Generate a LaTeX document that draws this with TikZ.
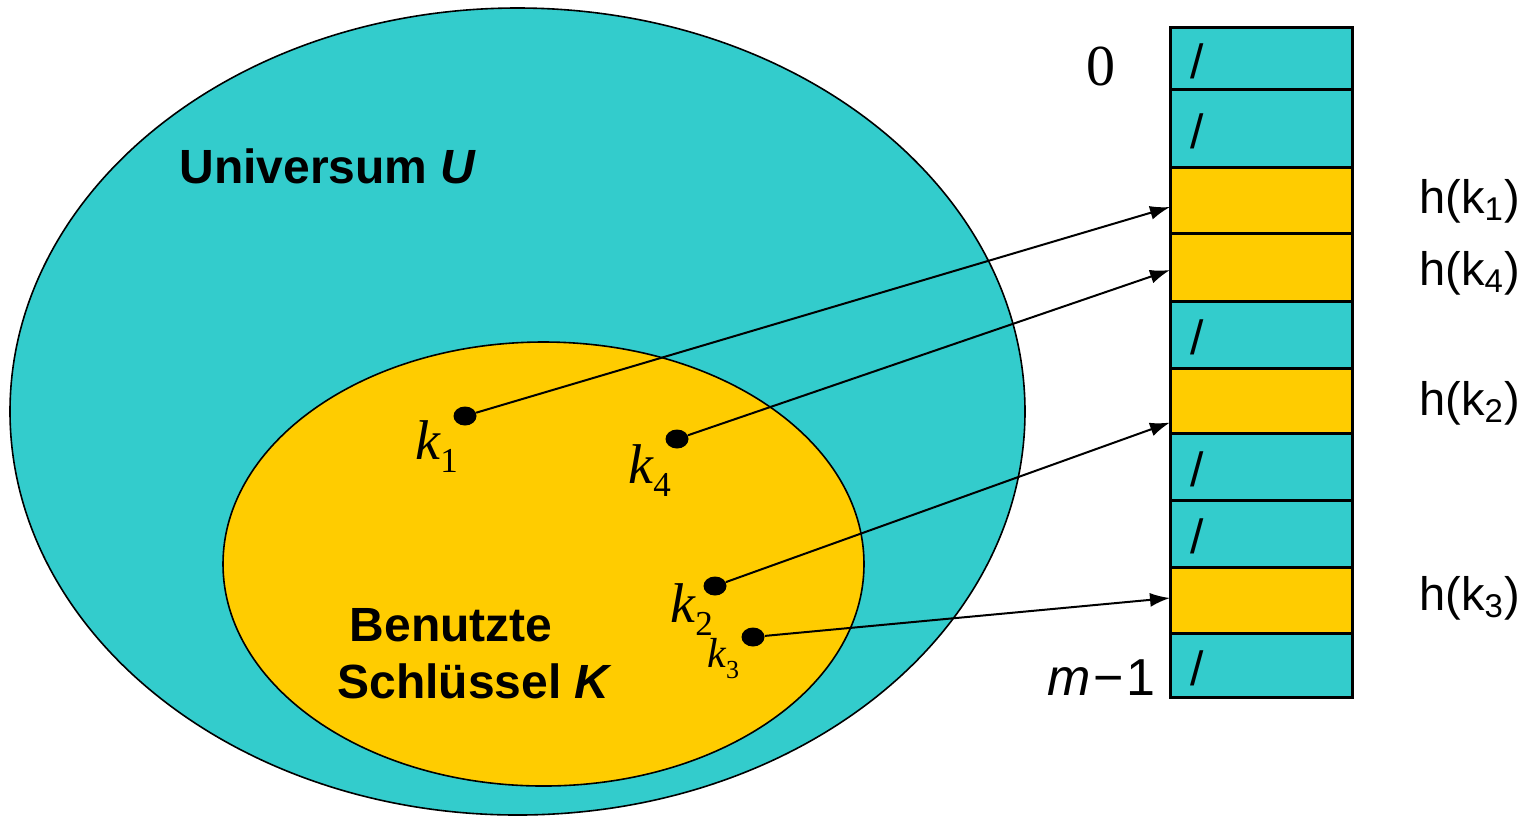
\documentclass[tikz,border=0pt]{standalone}
\usepackage{fontspec}
\setmainfont{Liberation Sans}
\newfontfamily\tms{Liberation Serif}
\usetikzlibrary{arrows.meta,shapes.geometric}
\definecolor{cy}{HTML}{33CCCC}
\definecolor{ye}{HTML}{FFCC00}
\tikzset{
  setshape/.style={ellipse, draw=black, line width=0.8pt, inner sep=0pt},
  dot/.style={ellipse, fill=black, minimum width=11.5pt, minimum height=9.5pt, inner sep=0pt},
  cell/.style={rectangle, draw=black, line width=1.5pt, minimum width=91pt, inner sep=0pt, outer sep=0pt},
  slash/.style={font=\fontsize{24}{28}\selectfont, inner sep=0pt},
  arr/.style={line width=1pt, -{Latex[length=10pt,width=7pt]}},
  hlabel/.style={font=\fontsize{23.5}{28}\selectfont, anchor=base west, inner sep=0pt},
  klabel/.style={anchor=base west, inner sep=0pt},
  title/.style={font=\fontsize{24}{28.5}\selectfont\bfseries, inner sep=0pt}
}
\newcommand{\kbig}[1]{{\tms\itshape\fontsize{28}{32}\selectfont k}\raisebox{-6.5pt}{\tms\fontsize{17.5}{20}\selectfont #1}}
\newcommand{\ksmall}[1]{{\tms\itshape\fontsize{21}{24}\selectfont k}\raisebox{-5.5pt}{\tms\fontsize{13}{16}\selectfont #1}}
\begin{document}
\begin{tikzpicture}[x=0.5pt,y=-0.5pt]
\useasboundingbox (0,0) rectangle (1525,816);

% sets
\node[setshape, fill=cy, minimum width=507.5pt, minimum height=403.5pt] (U) at (517.5,411.5) {};
\node[setshape, fill=ye, minimum width=320.5pt, minimum height=222pt] (K) at (543.5,564) {};

\node[title, anchor=base west] (tU) at (179,183) {Universum \textit{U}};
\node[title, align=center, anchor=center] (tK) at (475,654) {Benutzte\hspace*{24pt}\\Schlüssel \textit{K}};

% table
\foreach \i/\t/\b/\c in {1/27/89/cy, 2/89/167/cy, 3/167/233/ye, 4/233/301/ye, 5/301/368/cy,
  6/368/433/ye, 7/433/500/cy, 8/500/567/cy, 9/567/633/ye, 10/633/697/cy}
  \node[cell, fill=\c, minimum height={(\b-\t)*0.5pt}] (c\i) at (1261,{(\t+\b)/2}) {};
\foreach \i in {1,2,5,7,8,10}
  \node[slash] (s\i) at ([xshift=13.5pt,yshift=-1.5pt]c\i.west) {/};

% index labels
\node[anchor=base, inner sep=0pt] (l0) at (1101,85) {\tms\fontsize{29}{32}\selectfont 0};
\node[anchor=base east, inner sep=0pt, font=\fontsize{26}{30}\selectfont] (lm) at (1156,695) {\textit{m}\kern1.5pt−\kern1.5pt1};

\node[hlabel] (h1) at (1419,213) {h(k\textsubscript{1})};
\node[hlabel] (h4) at (1419,285) {h(k\textsubscript{4})};
\node[hlabel] (h2) at (1419,415) {h(k\textsubscript{2})};
\node[hlabel] (h3) at (1419,610) {h(k\textsubscript{3})};

% keys
\node[dot] (d1) at (465,416) {};
\node[dot] (d4) at (677,439) {};
\node[dot] (d2) at (715,586) {};
\node[dot] (d3) at (753,637) {};

\node[klabel] (k1) at (415,459) {\kbig{1}};
\node[klabel] (k4) at (628,483) {\kbig{4}};
\node[klabel] (k2) at (670,622) {\kbig{2}};
\node[klabel] (k3) at (707,667) {\ksmall{3}};

% arrows
\draw[arr] (d1) -- ([yshift=-3.5pt]c3.west);
\draw[arr] (d4) -- ([yshift=-1.5pt]c4.west);
\draw[arr] (d2) -- ([yshift=-11pt]c6.west);
\draw[arr] (d3) -- ([yshift=1pt]c9.west);
\end{tikzpicture}
\end{document}
